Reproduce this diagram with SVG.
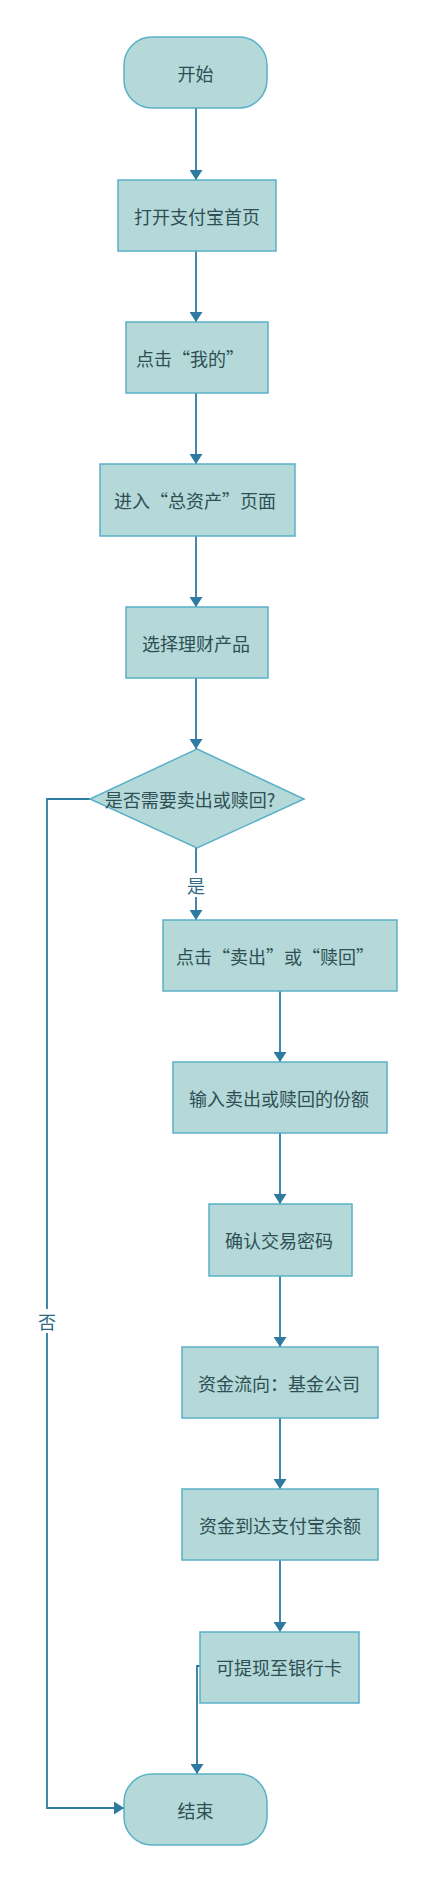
<svg xmlns="http://www.w3.org/2000/svg" width="430" height="1879" viewBox="0 0 430 1879">
<style>
.n{fill:#b4d9d8;stroke:#5ab0c8;stroke-width:1.5}
.t{font-family:"Noto Sans CJK SC","Noto Sans",sans-serif;font-size:18px;fill:#2f4f55;text-anchor:middle;dominant-baseline:central}
.c{fill:none;stroke:#2e7aa0;stroke-width:1.8}
.l{font-family:"Noto Sans CJK SC","Noto Sans",sans-serif;font-size:18px;fill:#2e6a85;text-anchor:middle;dominant-baseline:central}
</style>
<defs>
<marker id="a" viewBox="0 0 10 10" refX="10" refY="5" markerWidth="10" markerHeight="13" markerUnits="userSpaceOnUse" orient="auto" preserveAspectRatio="none">
<path d="M0,0 L10,5 L0,10 z" fill="#2e7aa0"/>
</marker>
</defs>
<rect width="430" height="1879" fill="#ffffff"/>
<g id="connectors">
<path class="c" d="M196,108 V180" marker-end="url(#a)"/>
<path class="c" d="M196,251 V322" marker-end="url(#a)"/>
<path class="c" d="M196,393 V464" marker-end="url(#a)"/>
<path class="c" d="M196,536 V607" marker-end="url(#a)"/>
<path class="c" d="M196,678 V749" marker-end="url(#a)"/>
<path class="c" d="M196,848 V920" marker-end="url(#a)"/>
<path class="c" d="M280,991 V1062" marker-end="url(#a)"/>
<path class="c" d="M280,1133 V1204" marker-end="url(#a)"/>
<path class="c" d="M280,1276 V1347" marker-end="url(#a)"/>
<path class="c" d="M280,1418 V1489" marker-end="url(#a)"/>
<path class="c" d="M280,1560 V1632" marker-end="url(#a)"/>
<path class="c" d="M200,1666 H197 V1774" marker-end="url(#a)"/>
<path class="c" d="M90,799 H47 V1808 H124" marker-end="url(#a)"/>
<rect x="186" y="873" width="20" height="24" fill="#ffffff"/>
<text class="l" x="196" y="885">是</text>
<rect x="37" y="1309" width="20" height="24" fill="#ffffff"/>
<text class="l" x="47" y="1321">否</text>
</g>
<g id="start">
<rect class="n" x="124" y="37" width="143" height="71" rx="28" ry="28"/>
<text class="t" x="195.5" y="72.5">开始</text>
</g>
<g id="open-home">
<rect class="n" x="118" y="180" width="158" height="71"/>
<text class="t" x="197" y="215.5">打开支付宝首页</text>
</g>
<g id="click-mine">
<rect class="n" x="126" y="322" width="142" height="71"/>
<text class="t" x="190" y="357.5">点击“我的”</text>
</g>
<g id="total-assets">
<rect class="n" x="100" y="464" width="195" height="72"/>
<text class="t" x="195" y="500">进入“总资产”页面</text>
</g>
<g id="select-product">
<rect class="n" x="126" y="607" width="142" height="71"/>
<text class="t" x="196" y="642.5">选择理财产品</text>
</g>
<g id="decision">
<polygon class="n" points="197,749 304,799 197,848 90,799"/>
<text class="t" x="190" y="799">是否需要卖出或赎回?</text>
</g>
<g id="click-sell">
<rect class="n" x="163" y="920" width="234" height="71"/>
<text class="t" x="275" y="955.5">点击“卖出”或“赎回”</text>
</g>
<g id="input-amount">
<rect class="n" x="173" y="1062" width="214" height="71"/>
<text class="t" x="279" y="1097.5">输入卖出或赎回的份额</text>
</g>
<g id="confirm-password">
<rect class="n" x="209" y="1204" width="143" height="72"/>
<text class="t" x="279" y="1240">确认交易密码</text>
</g>
<g id="fund-flow">
<rect class="n" x="182" y="1347" width="196" height="71"/>
<text class="t" x="279" y="1382.5">资金流向：基金公司</text>
</g>
<g id="arrive-balance">
<rect class="n" x="182" y="1489" width="196" height="71"/>
<text class="t" x="280" y="1524.5">资金到达支付宝余额</text>
</g>
<g id="withdraw">
<rect class="n" x="200" y="1632" width="159" height="71"/>
<text class="t" x="279" y="1667">可提现至银行卡</text>
</g>
<g id="end">
<rect class="n" x="124" y="1774" width="143" height="71" rx="28" ry="28"/>
<text class="t" x="195.5" y="1809.5">结束</text>
</g>
</svg>
